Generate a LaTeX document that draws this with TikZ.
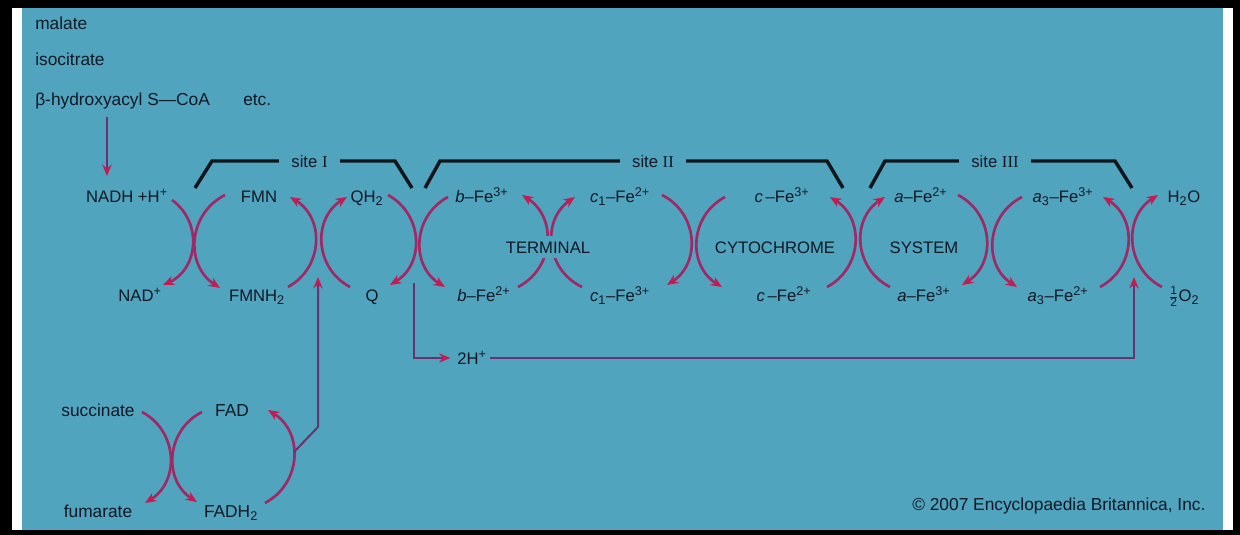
\documentclass[tikz,border=0pt]{standalone}
\usepackage{fontspec}
\setmainfont{Liberation Sans}
\newfontfamily\serifnum{Liberation Serif}
\usetikzlibrary{arrows.meta}
\definecolor{bg}{RGB}{80,164,190}
\definecolor{arcc}{RGB}{160,40,100}
\definecolor{tipc}{RGB}{200,25,80}
\definecolor{linec}{RGB}{108,50,112}
\definecolor{txt}{RGB}{18,24,36}
\definecolor{brkc}{RGB}{18,22,28}
\newcommand\sps[1]{\textsuperscript{\fontsize{9.5}{10}\selectfont#1}}
\newcommand\sbs[1]{\textsubscript{\fontsize{9.5}{10}\selectfont#1}}
\begin{document}
\begin{tikzpicture}[x=0.75pt,y=-0.75pt,
  lbl/.style={text=txt,font=\fontsize{12.5}{14}\selectfont,inner sep=0pt,anchor=base},
  big/.style={lbl,font=\fontsize{13}{15}\selectfont},
  mid/.style={lbl,fill=bg,inner xsep=1pt,inner ysep=4pt},
  site/.style={lbl,fill=bg,inner xsep=9pt,inner ysep=2pt},
  brk/.style={draw=brkc,line width=2.6pt},
  rx/.style={draw=arcc,line width=2pt,-{Stealth[length=8.5pt,width=7pt,color=tipc]}},
  bl/.style={bend left=60,looseness=1.15},
  br/.style={bend right=60,looseness=1.15},
  conn/.style={draw=linec,line width=1.5pt,-{Stealth[length=8.5pt,width=7pt,color=tipc]}}
]
\useasboundingbox (0,0) rectangle (1240,535);
\fill[black] (0,0) rectangle (1240,535);
\fill[white] (12,8) rectangle (1233,530);
\fill[bg] (22,8) rectangle (1223,530);

% substrates
\node[big,anchor=base west] (malate) at (35,30) {malate};
\node[big,anchor=base west] (isocit) at (35,66) {isocitrate};
\node[big,anchor=base west] (hydroxy) at (35,106) {β-hydroxyacyl S—CoA};
\node[big,anchor=base west] (etc) at (243,106) {etc.};

% top row
\node[lbl] (nadh) at (127,202) {NADH +H\sps{+}};
\node[lbl] (fmn) at (259,202) {FMN};
\node[lbl] (qh2) at (367,202) {QH\sbs{2}};
\node[lbl] (bfe3) at (482,202) {\textit{b}–Fe\sps{3+}};
\node[lbl] (c1fe2) at (620,202) {\textit{c}\sbs{1}–Fe\sps{2+}};
\node[lbl] (cfe3) at (782,202) {\textit{c}\,–Fe\sps{3+}};
\node[lbl] (afe2) at (921,202) {\textit{a}–Fe\sps{2+}};
\node[lbl] (a3fe3) at (1063,202) {\textit{a}\sbs{3}–Fe\sps{3+}};
\node[lbl] (h2o) at (1184,202) {H\sbs{2}O};

% bottom row
\node[lbl] (nad) at (140,301) {NAD\sps{+}};
\node[lbl] (fmnh2) at (257,301) {FMNH\sbs{2}};
\node[lbl] (q) at (372,301) {Q};
\node[lbl] (bfe2) at (484,301) {\textit{b}–Fe\sps{2+}};
\node[lbl] (c1fe3) at (620,301) {\textit{c}\sbs{1}–Fe\sps{3+}};
\node[lbl] (cfe2) at (784,301) {\textit{c}\,–Fe\sps{2+}};
\node[lbl] (afe3) at (924,301) {\textit{a}–Fe\sps{3+}};
\node[lbl] (a3fe2) at (1058,301) {\textit{a}\sbs{3}–Fe\sps{2+}};
\node[lbl] (halfo2) at (1184,301) {$\frac{\mbox{\fontsize{9}{9}\selectfont 1}}{\mbox{\fontsize{9}{9}\selectfont 2}}$O\sbs{2}};

% bottom-left
\node[big] (succ) at (98,416) {succinate};
\node[big] (fad) at (232,416) {FAD};
\node[big] (fum) at (98,517) {fumarate};
\node[big] (fadh2) at (231,517) {FADH\sbs{2}};

% brackets
\draw[brk] (195,188) -- (212,161) -- (395,161) -- (412,188);
\draw[brk] (425,188) -- (440,161) -- (827,161) -- (843,188);
\draw[brk] (870,188) -- (885,161) -- (1115,161) -- (1132,188);
\node[site] (s1) at (309.5,167) {site {\serifnum I}};
\node[site] (s2) at (653,167) {site {\serifnum II}};
\node[site] (s3) at (995,167) {site {\serifnum III}};

% arc end points
\path (172,200) coordinate (a1s) (163,285) coordinate (a1e)
      (225,195) coordinate (a2s) (220,288) coordinate (a2e)
      (288,287) coordinate (a3s) (290,197) coordinate (a3e)
      (350,287) coordinate (a4s) (347,197) coordinate (a4e)
      (388,195) coordinate (a5s) (390,285) coordinate (a5e)
      (448,197) coordinate (a6s) (445,287) coordinate (a6e)
      (518,287) coordinate (a7s) (522,195) coordinate (a7e)
      (582,287) coordinate (a8s) (575,197) coordinate (a8e)
      (662,195) coordinate (a9s) (667,285) coordinate (a9e)
      (725,197) coordinate (a10s) (722,287) coordinate (a10e)
      (827,287) coordinate (a11s) (830,197) coordinate (a11e)
      (890,287) coordinate (a12s) (885,197) coordinate (a12e)
      (958,195) coordinate (a13s) (962,285) coordinate (a13e)
      (1022,197) coordinate (a14s) (1017,287) coordinate (a14e)
      (1100,287) coordinate (a15s) (1103,197) coordinate (a15e)
      (1162,287) coordinate (a16s) (1158,195) coordinate (a16e)
      (142,412) coordinate (b1s) (145,503) coordinate (b1e)
      (202,412) coordinate (b2s) (197,502) coordinate (b2e)
      (265,503) coordinate (b3s) (268,410) coordinate (b3e);

\draw[rx] (a1s) to[bl] (a1e);
\draw[rx] (a2s) to[br] (a2e);
\draw[rx] (a3s) to[br] (a3e);
\draw[rx] (a4s) to[bl] (a4e);
\draw[rx] (a5s) to[bl] (a5e);
\draw[rx] (a6s) to[br] (a6e);
\draw[rx] (a7s) to[br] (a7e);
\draw[rx] (a8s) to[bl] (a8e);
\draw[rx] (a9s) to[bl] (a9e);
\draw[rx] (a10s) to[br] (a10e);
\draw[rx] (a11s) to[br] (a11e);
\draw[rx] (a12s) to[bl] (a12e);
\draw[rx] (a13s) to[bl] (a13e);
\draw[rx] (a14s) to[br] (a14e);
\draw[rx] (a15s) to[br] (a15e);
\draw[rx] (a16s) to[bl] (a16e);
\draw[rx] (b1s) to[bl] (b1e);
\draw[rx] (b2s) to[br] (b2e);
\draw[rx] (b3s) to[br] (b3e);

% middle labels over arcs
\node[mid] (term) at (548,253) {TERMINAL};
\node[mid] (cyto) at (775,253) {CYTOCHROME};
\node[mid] (syst) at (924,253) {SYSTEM};

% connectors
\coordinate (hs) at (107,117);
\coordinate (he) at (107,176);
\draw[conn] (hs) -- (he);

\node[lbl] (twoh) at (472,364) {2H\sps{+}};
\coordinate (qd) at (414,283);
\coordinate (qc) at (414,358);
\coordinate (rc) at (1134,358);
\coordinate (ru) at (1134,277);
\draw[conn] (qd) -- (qc) -- ([xshift=-5pt]twoh.west |- qc);
\draw[conn] ([xshift=2pt]twoh.east |- qc) -- (rc) -- (ru);

\coordinate (fm) at (294,452);
\coordinate (fk) at (318,427);
\coordinate (fu) at (318,277);
\draw[conn] (fm) -- (fk) -- (fu);

\node[big,anchor=base west] (copy) at (912,510) {© 2007 Encyclopaedia Britannica, Inc.};
\end{tikzpicture}
\end{document}
